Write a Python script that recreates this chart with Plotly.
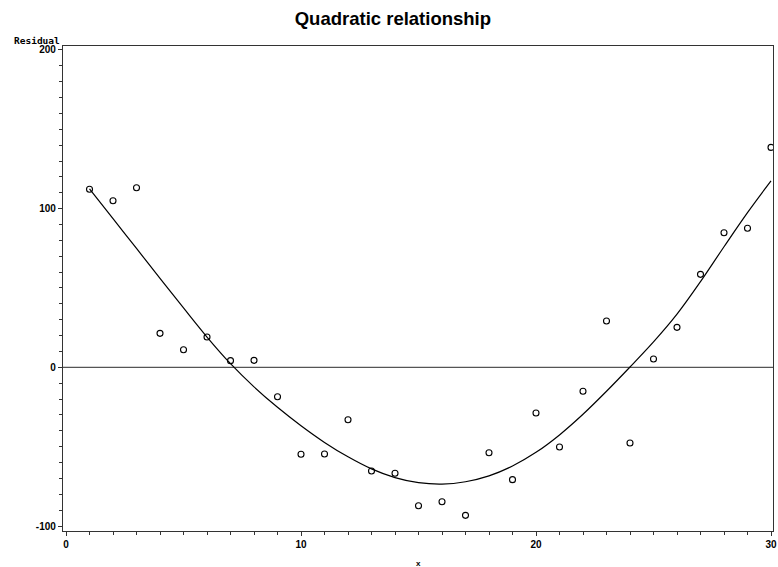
import plotly.graph_objects as go

# Observed residuals
x_vals = list(range(1, 31))
residuals = [112.2, 105.0, 113.2, 21.4, 11.1, 19.1, 4.2, 4.4, -18.5, -54.8,
             -54.6, -33.0, -65.3, -66.8, -87.2, -84.7, -93.3, -53.8, -70.8, -28.8,
             -50.2, -15.1, 29.2, -47.7, 5.2, 25.2, 58.6, 84.8, 87.6, 138.6]

# Smoothed curve
curve_x = list(range(1, 31))
curve_y = [112.5, 93.7, 74.9, 56.1, 37.4, 19.1, 2.3, -12.3, -25.2, -36.8,
           -47.3, -56.4, -64.0, -69.5, -72.7, -73.6, -72.1, -68.4, -62.2, -53.6,
           -42.6, -29.6, -15.1, 0.2, 16.0, 33.5, 54.0, 76.0, 97.5, 117.5]

x_ticks = [0, 10, 20, 30]
y_ticks = [-100, 0, 100, 200]

TICKFONT = dict(family="Liberation Sans", size=10, color="black", weight="bold")
AXCOLOR = "#333333"

fig = go.Figure()
fig.add_trace(go.Scatter(
    x=curve_x, y=curve_y, mode="lines",
    line=dict(color="black", width=1.2, shape="spline", smoothing=1.0),
    hoverinfo="skip", showlegend=False))
fig.add_trace(go.Scatter(
    x=x_vals, y=residuals, mode="markers",
    marker=dict(symbol="circle-open", size=6, color="black", line=dict(width=1.1)),
    showlegend=False))

fig.add_shape(type="line", xref="paper", yref="y", x0=0, x1=1, y0=0, y1=0,
              line=dict(color="#555555", width=1.2), layer="below")

fig.update_layout(
    width=778, height=567,
    margin=dict(l=63, r=5, t=46, b=36, autoexpand=False),
    paper_bgcolor="white", plot_bgcolor="white",
    title=dict(text="<b>Quadratic relationship</b>", x=0.505, xanchor="center",
               y=0.968, yanchor="middle",
               font=dict(family="Liberation Sans", size=18.5, color="black")),
    xaxis=dict(range=[-0.128, 30.085], tickvals=x_ticks, ticktext=[str(v) for v in x_ticks],
               showgrid=False, zeroline=False, showline=True, linecolor=AXCOLOR, linewidth=1.3,
               mirror=True, ticks="outside", ticklen=4, tickcolor=AXCOLOR, tickwidth=1.2,
               tickfont=TICKFONT, automargin=False,
               minor=dict(dtick=1, tick0=0, ticks="outside", ticklen=3, tickcolor=AXCOLOR, tickwidth=1)),
    yaxis=dict(range=[-103.15, 202.5], tickvals=y_ticks, ticktext=[str(v) for v in y_ticks],
               showgrid=False, zeroline=False, showline=True, linecolor=AXCOLOR, linewidth=1.3,
               mirror=True, ticks="outside", ticklen=4, tickcolor=AXCOLOR, tickwidth=1.2,
               tickfont=TICKFONT, automargin=False,
               minor=dict(dtick=10, tick0=0, ticks="outside", ticklen=3, tickcolor=AXCOLOR, tickwidth=1)),
)

fig.add_annotation(text="<b>x</b>", xref="paper", yref="paper", x=0.5, y=0,
                   xanchor="center", yanchor="top", showarrow=False, yshift=-26,
                   font=dict(family="Liberation Sans", size=8, color="black"))

fig.add_annotation(text="<b>Residual</b>", xref="paper", yref="paper", x=0.0, y=1.0,
                   xanchor="right", yanchor="bottom", showarrow=False, xshift=-1, yshift=-2,
                   font=dict(family="DejaVu Sans Mono", size=9.5, color="black"))

fig.write_html("out.html")
